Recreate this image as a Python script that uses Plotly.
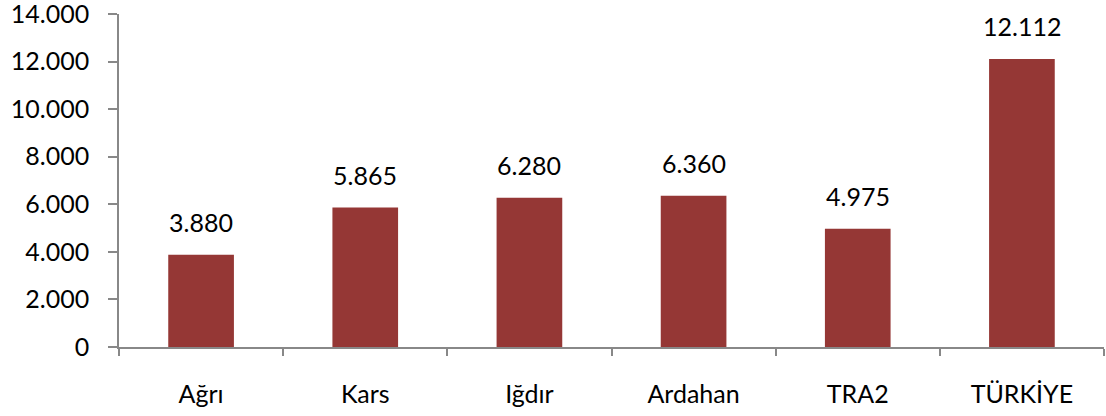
import plotly.graph_objects as go

categories = ["Ağrı", "Kars", "Iğdır", "Ardahan", "TRA2", "TÜRKİYE"]
values = [3880, 5865, 6280, 6360, 4975, 12112]
value_labels = ["3.880", "5.865", "6.280", "6.360", "4.975", "12.112"]
y_tick_vals = [0, 2000, 4000, 6000, 8000, 10000, 12000, 14000]
y_tick_text = ["0", "2.000", "4.000", "6.000", "8.000", "10.000", "12.000", "14.000"]

FONT = "Lato"
fig = go.Figure()
fig.add_trace(go.Bar(x=categories, y=values, marker_color="#953735",
                     marker_line_width=0, width=0.4, hoverinfo="skip"))

for c, v, t in zip(categories, values, value_labels):
    fig.add_annotation(x=c, y=v, text=t, showarrow=False, yanchor="bottom",
                       yshift=16, font=dict(family=FONT, size=25, color="#000000"))

fig.update_layout(
    width=1106, height=416,
    margin=dict(l=119, r=2, t=14, b=69),
    paper_bgcolor="white", plot_bgcolor="white",
    showlegend=False,
    font=dict(family=FONT, size=25, color="#000000"),
)
fig.update_xaxes(
    type="category", showline=True, linecolor="#888888", linewidth=1.5,
    ticks="outside", tickson="boundaries", ticklen=7, tickcolor="#888888",
    tickwidth=1.5, showgrid=False, ticklabelstandoff=24, automargin=False,
    tickfont=dict(family=FONT, size=25, color="#000000"),
)
fig.update_yaxes(
    range=[0, 14000], tickvals=y_tick_vals, ticktext=y_tick_text,
    showline=True, linecolor="#888888", linewidth=1.5,
    ticks="outside", ticklen=9, tickcolor="#888888", tickwidth=1.5,
    showgrid=False, zeroline=False, ticklabelstandoff=14, automargin=False,
    ticklabeloverflow="allow",
    tickfont=dict(family=FONT, size=25, color="#000000"),
)

fig.write_html("out.html", config={"displayModeBar": False},
               post_script="document.body.style.margin='0';")
